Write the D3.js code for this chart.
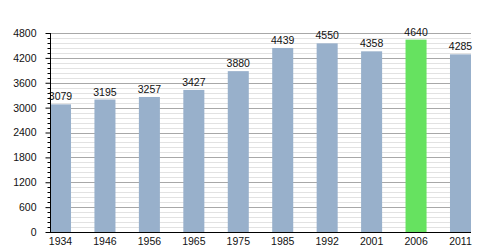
<!DOCTYPE html>
<html>
<head>
<meta charset="utf-8">
<script src="https://cdn.jsdelivr.net/npm/d3@7"></script>
<style>
  body { margin: 0; background: #fff; }
  text { font-family: "Liberation Sans", Arial, sans-serif; }
</style>
</head>
<body>
<div id="wrapper"></div>
<script>
var years = ["1934", "1946", "1956", "1965", "1975", "1985", "1992", "2001", "2006", "2011"];
var population = [3079, 3195, 3257, 3427, 3880, 4439, 4550, 4358, 4640, 4285];
var yTicks = [0, 600, 1200, 1800, 2400, 3000, 3600, 4200, 4800];
var highlightYear = "2006";

var svg = d3.select('#wrapper')
            .append('svg')
            .attr('width', 500)
            .attr('height', 250);

// plot area edges
var pLeft = 50, pRight = 471, pTop = 33, pBottom = 232;

var x = d3.scaleBand()
          .domain(years)
          .range([pLeft, pRight])
          .paddingInner(0.527)
          .paddingOuter(0);

var y = d3.scaleLinear()
          .domain([0, 4800])
          .range([pBottom, pTop]);

// minor grid lines every 120
var minor = d3.range(0, 4801, 120).filter(function(v) { return v % 600 !== 0; });
svg.append("g").selectAll("line")
   .data(minor)
   .enter()
   .append("line")
   .attr("x1", pLeft).attr("x2", pRight)
   .attr("y1", function(d) { return Math.round(y(d)) + 0.5; })
   .attr("y2", function(d) { return Math.round(y(d)) + 0.5; })
   .style("stroke", "#e2e2e2");

// major grid lines
svg.append("g").selectAll("line")
   .data(yTicks.slice(1))
   .enter()
   .append("line")
   .attr("x1", pLeft).attr("x2", pRight)
   .attr("y1", function(d) { return Math.round(y(d)) + 0.5; })
   .attr("y2", function(d) { return Math.round(y(d)) + 0.5; })
   .style("stroke", "#a8a8a8");

// bars
svg.append("g").selectAll("rect")
   .data(population)
   .enter()
   .append("rect")
   .attr("x", function(d, i) { return x(years[i]); })
   .attr("y", function(d) { return y(d); })
   .attr("width", x.bandwidth())
   .attr("height", function(d) { return pBottom - y(d); })
   .style("fill", function(d, i) { return years[i] === highlightYear ? "#66e260" : "#98b0cb"; });

// value labels
svg.append("g").selectAll("text")
   .data(population)
   .enter()
   .append("text")
   .attr("x", function(d, i) { return x(years[i]) + x.bandwidth() / 2; })
   .attr("y", function(d) { return y(d) - 4; })
   .attr("text-anchor", "middle")
   .style("font-size", "10.5px")
   .style("fill", "#111")
   .text(function(d) { return d; });

// y axis
var yAxis = d3.axisLeft(y)
              .tickValues(yTicks)
              .tickSize(5)
              .tickPadding(9)
              .tickFormat(d3.format("d"));
var gy = svg.append("g")
            .attr("transform", "translate(" + (pLeft + 0.5) + ",0)")
            .call(yAxis);
gy.select(".domain").attr("d", "M0," + pTop + "V" + pBottom).style("stroke", "#000");
gy.selectAll(".tick line").style("stroke", "#000");
gy.selectAll("text").style("font-size", "10.5px").style("fill", "#111").attr("font-family", null);

// minor ticks on y axis
gy.append("g").selectAll("line")
  .data(minor)
  .enter()
  .append("line")
  .attr("x1", -3).attr("x2", 0)
  .attr("y1", function(d) { return Math.round(y(d)) + 0.5; })
  .attr("y2", function(d) { return Math.round(y(d)) + 0.5; })
  .style("stroke", "#000");

// x axis
var xAxis = d3.axisBottom(x).tickSize(0).tickPadding(5);
var gx = svg.append("g")
            .attr("transform", "translate(0," + (pBottom + 0.5) + ")")
            .call(xAxis);
gx.select(".domain").attr("d", "M" + pLeft + ",0H" + pRight).style("stroke", "#000");
gx.selectAll("text").style("font-size", "10.5px").style("fill", "#111").attr("font-family", null);
</script>
</body>
</html>
